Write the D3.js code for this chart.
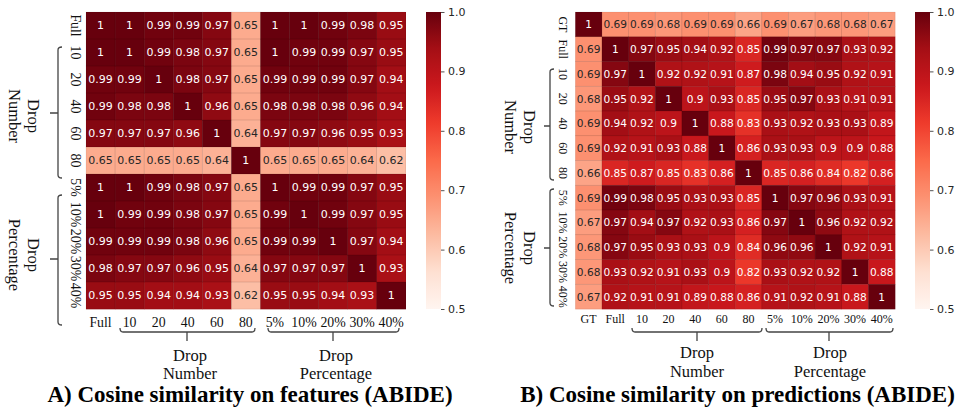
<!DOCTYPE html>
<html><head><meta charset="utf-8">
<script src="https://cdn.jsdelivr.net/npm/d3@7"></script>
<style>body{margin:0;background:#fff}svg{display:block}</style>
</head><body>
<svg id="c" width="956" height="408"></svg>
<script>
// ---------- data ----------
const labelsA = ["Full","10","20","40","60","80","5%","10%","20%","30%","40%"];
const valuesA = [
  [1,1,0.99,0.99,0.97,0.65,1,1,0.99,0.98,0.95],
  [1,1,0.99,0.98,0.97,0.65,1,0.99,0.99,0.97,0.95],
  [0.99,0.99,1,0.98,0.97,0.65,0.99,0.99,0.99,0.97,0.94],
  [0.99,0.98,0.98,1,0.96,0.65,0.98,0.98,0.98,0.96,0.94],
  [0.97,0.97,0.97,0.96,1,0.64,0.97,0.97,0.96,0.95,0.93],
  [0.65,0.65,0.65,0.65,0.64,1,0.65,0.65,0.65,0.64,0.62],
  [1,1,0.99,0.98,0.97,0.65,1,0.99,0.99,0.97,0.95],
  [1,0.99,0.99,0.98,0.97,0.65,0.99,1,0.99,0.97,0.95],
  [0.99,0.99,0.99,0.98,0.96,0.65,0.99,0.99,1,0.97,0.94],
  [0.98,0.97,0.97,0.96,0.95,0.64,0.97,0.97,0.97,1,0.93],
  [0.95,0.95,0.94,0.94,0.93,0.62,0.95,0.95,0.94,0.93,1]
];
const labelsB = ["GT","Full","10","20","40","60","80","5%","10%","20%","30%","40%"];
const valuesB = [
  [1,0.69,0.69,0.68,0.69,0.69,0.66,0.69,0.67,0.68,0.68,0.67],
  [0.69,1,0.97,0.95,0.94,0.92,0.85,0.99,0.97,0.97,0.93,0.92],
  [0.69,0.97,1,0.92,0.92,0.91,0.87,0.98,0.94,0.95,0.92,0.91],
  [0.68,0.95,0.92,1,0.9,0.93,0.85,0.95,0.97,0.93,0.91,0.91],
  [0.69,0.94,0.92,0.9,1,0.88,0.83,0.93,0.92,0.93,0.93,0.89],
  [0.69,0.92,0.91,0.93,0.88,1,0.86,0.93,0.93,0.9,0.9,0.88],
  [0.66,0.85,0.87,0.85,0.83,0.86,1,0.85,0.86,0.84,0.82,0.86],
  [0.69,0.99,0.98,0.95,0.93,0.93,0.85,1,0.97,0.96,0.93,0.91],
  [0.67,0.97,0.94,0.97,0.92,0.93,0.86,0.97,1,0.96,0.92,0.92],
  [0.68,0.97,0.95,0.93,0.93,0.9,0.84,0.96,0.96,1,0.92,0.91],
  [0.68,0.93,0.92,0.91,0.93,0.9,0.82,0.93,0.92,0.92,1,0.88],
  [0.67,0.92,0.91,0.91,0.89,0.88,0.86,0.91,0.92,0.91,0.88,1]
];
const colorbarTicks = [0.5,0.6,0.7,0.8,0.9,1.0];
const groupNames = [["Drop","Number"],["Drop","Percentage"]];
const titleA = "A) Cosine similarity on features (ABIDE)";
const titleB = "B) Cosine similarity on predictions (ABIDE)";

// ---------- colour ----------
const redsStops = ["#fff5f0","#fee0d2","#fcbba1","#fc9272","#fb6a4a","#ef3b2c","#cb181d","#a50f15","#67000d"];
const vmin = 0.5, vmax = 1.0;
const color = d3.scaleLinear()
  .domain(redsStops.map((_, i) => vmin + i * (vmax - vmin) / (redsStops.length - 1)))
  .range(redsStops).clamp(true);
function lum(c) {
  const r = d3.rgb(c);
  const f = v => { v /= 255; return v <= 0.03928 ? v / 12.92 : Math.pow((v + 0.055) / 1.055, 2.4); };
  return 0.2126 * f(r.r) + 0.7152 * f(r.g) + 0.0722 * f(r.b);
}

const svg = d3.select("#c");
const serif = "'Liberation Serif','Times New Roman',serif";
const sans = "'DejaVu Sans',sans-serif";
const ink = "#262626";
const brk = "#444";

function vBracket(g, bx, y1, y2, ym, tick) {
  g.append("path")
    .attr("d", `M${bx+4},${y1} Q${bx},${y1} ${bx},${y1+3} L${bx},${y2-3} Q${bx},${y2} ${bx+4},${y2} M${bx},${ym} L${bx-tick},${ym}`)
    .attr("fill", "none").attr("stroke", brk).attr("stroke-width", 1.3);
}
function hBracket(g, by, x1, x2, xm, tick) {
  g.append("path")
    .attr("d", `M${x1},${by-4} Q${x1},${by} ${x1+3},${by} L${x2-3},${by} Q${x2},${by} ${x2},${by-4} M${xm},${by} L${xm},${by+tick}`)
    .attr("fill", "none").attr("stroke", brk).attr("stroke-width", 1.3);
}

function panel(cfg, labels, values, id) {
  const g = svg.append("g");
  const x = d3.scaleBand().domain(labels).range([cfg.x0, cfg.x1]);
  const y = d3.scaleBand().domain(labels).range([cfg.y0, cfg.y1]);
  const cells = [];
  values.forEach((row, i) => row.forEach((v, j) => cells.push({r: labels[i], c: labels[j], v})));
  g.selectAll("rect.cell").data(cells).join("rect").attr("class", "cell")
    .attr("x", d => x(d.c)).attr("y", d => y(d.r))
    .attr("width", x.bandwidth() + 0.3).attr("height", y.bandwidth() + 0.3)
    .attr("fill", d => color(d.v));
  g.selectAll("rect.edge").data(cells).join("rect").attr("class", "edge")
    .attr("x", d => x(d.c)).attr("y", d => y(d.r))
    .attr("width", x.bandwidth()).attr("height", y.bandwidth())
    .attr("fill", "none").attr("stroke", "rgba(0,0,0,0.10)").attr("stroke-width", 0.6);
  g.selectAll("text.ann").data(cells).join("text").attr("class", "ann")
    .attr("x", d => x(d.c) + x.bandwidth() / 2).attr("y", d => y(d.r) + y.bandwidth() / 2)
    .attr("text-anchor", "middle").attr("dominant-baseline", "central")
    .style("font-family", sans).style("font-size", cfg.annSize + "px")
    .attr("fill", d => lum(color(d.v)) > 0.408 ? ink : "#fff")
    .text(d => d3.format("~g")(d.v));
  // x tick labels
  const ax = d3.axisBottom(x).tickSize(0).tickPadding(0);
  const axg = g.append("g").attr("transform", `translate(0,${cfg.xLabY})`).call(ax);
  axg.select(".domain").remove();
  axg.selectAll("text").style("font-family", serif).style("font-size", cfg.tickSize + "px")
    .attr("fill", "#111").attr("dy", 0).attr("y", 0);
  // y tick labels, rotated
  g.selectAll("text.yl").data(labels).join("text").attr("class", "yl")
    .attr("transform", d => `translate(${cfg.yLabX},${y(d) + y.bandwidth() / 2}) rotate(90)`)
    .attr("text-anchor", "middle").attr("dominant-baseline", "central")
    .style("font-family", serif).style("font-size", cfg.tickSize + "px").attr("fill", "#111")
    .text(d => d);
  // y group labels
  cfg.yGroups.forEach((cy, k) => {
    const t = g.append("text").attr("transform", `translate(${cfg.yGroupX},${cy}) rotate(90)`)
      .attr("text-anchor", "middle").style("font-family", serif).style("font-size", "16.5px").attr("fill", "#111");
    t.append("tspan").attr("x", 0).attr("y", -4).text(groupNames[k][0]);
    t.append("tspan").attr("x", 0).attr("y", 15).text(groupNames[k][1]);
  });
  cfg.yBr.forEach(b => vBracket(g, cfg.yBrX, b[0], b[1], b[2], cfg.yBrTick));
  cfg.xBr.forEach(b => hBracket(g, 332, b[0], b[1], b[2], 9));
  cfg.xGroups.forEach((cx, k) => {
    g.append("text").attr("x", cx).attr("y", cfg.xGroupY[0]).attr("text-anchor", "middle")
      .style("font-family", serif).style("font-size", "16.5px").attr("fill", "#111").text(groupNames[k][0]);
    g.append("text").attr("x", cx).attr("y", cfg.xGroupY[1]).attr("text-anchor", "middle")
      .style("font-family", serif).style("font-size", "16.5px").attr("fill", "#111").text(groupNames[k][1]);
  });
  // colorbar
  const defs = svg.append("defs");
  const grad = defs.append("linearGradient").attr("id", "grad" + id)
    .attr("x1", 0).attr("y1", 1).attr("x2", 0).attr("y2", 0);
  d3.range(0, 1.0001, 0.02).forEach(t => grad.append("stop")
    .attr("offset", t).attr("stop-color", color(vmin + t * (vmax - vmin))));
  g.append("rect").attr("x", cfg.cbX).attr("y", cfg.y0).attr("width", cfg.cbW)
    .attr("height", cfg.y1 - cfg.y0).attr("fill", `url(#grad${id})`);
  const cs = d3.scaleLinear().domain([vmin, vmax]).range([cfg.y1, cfg.y0]);
  const cax = g.append("g").attr("transform", `translate(${cfg.cbX + cfg.cbW},0)`)
    .call(d3.axisRight(cs).tickValues(colorbarTicks).tickFormat(d3.format(".1f")).tickSize(3.5).tickPadding(3.5));
  cax.select(".domain").remove();
  cax.selectAll("line").attr("stroke", ink).attr("stroke-width", 0.8);
  cax.selectAll("text").style("font-family", sans).style("font-size", "11px").attr("fill", ink);
  // title
  svg.append("text").attr("x", cfg.titleX).attr("y", 402).attr("text-anchor", "middle")
    .style("font-family", serif).style("font-weight", "bold").style("font-size", "23px").attr("fill", "#000")
    .text(cfg.title);
}

panel({x0: 86, x1: 405.7, y0: 12, y1: 309, annSize: 11, tickSize: 13.8,
  xLabY: 327, yLabX: 75, yGroupX: 24, yGroups: [116, 255],
  yBrX: 58, yBrTick: 8, yBr: [[47, 178, 113], [195, 325, 259]],
  xBr: [[120, 255, 187], [268, 399, 333]], xGroups: [190, 336], xGroupY: [361, 379],
  cbX: 426, cbW: 15, titleX: 250, title: titleA}, labelsA, valuesA, "A");

panel({x0: 575.3, x1: 895, y0: 12, y1: 309, annSize: 10.6, tickSize: 12,
  xLabY: 323, yLabX: 563, yGroupX: 520, yGroups: [127, 248],
  yBrX: 550, yBrTick: 6, yBr: [[69, 180, 126], [189, 306, 248]],
  xBr: [[632, 762, 697], [766, 893, 829]], xGroups: [697, 830], xGroupY: [358, 377],
  cbX: 915, cbW: 15, titleX: 737.5, title: titleB}, labelsB, valuesB, "B");
</script>
</body></html>
